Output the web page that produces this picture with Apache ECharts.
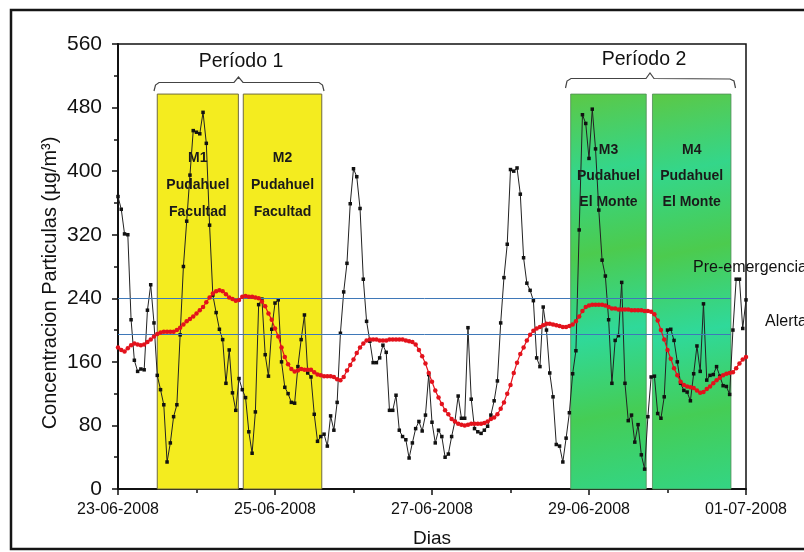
<!DOCTYPE html>
<html>
<head>
<meta charset="utf-8">
<script src="https://cdn.jsdelivr.net/npm/echarts@6/dist/echarts.min.js"></script>
<style>html,body{margin:0;padding:0;background:#fff;}#c{width:804px;height:552px;}</style>
</head>
<body>
<div id="c"></div>
<script>
// hourly readings, hour 0 = 23-06-2008 00:00
const blackValues = [
368,352,321,320,213,162,148,151,150,225,257,209,143,125,106,34,58,91,106,194,
280,337,395,451,449,447,474,435,332,244,222,201,188,133,175,121,99,139,125,115,
72,45,97,232,239,169,142,201,234,238,160,128,120,109,108,154,188,219,146,141,
94,60,66,69,54,92,74,109,196,248,284,359,403,393,353,264,211,186,159,159,
165,181,172,99,99,118,74,66,62,39,58,76,85,73,93,144,84,58,74,66,
40,44,66,85,117,89,89,203,113,76,72,70,74,79,93,111,136,209,266,308,
402,400,404,371,291,259,250,237,165,154,229,200,146,116,56,54,34,64,96,145,
174,326,471,460,416,478,428,351,288,268,213,133,187,193,260,133,86,93,59,81,
43,25,91,141,142,95,89,116,200,201,187,160,133,124,122,111,145,180,148,233,
137,143,144,154,142,130,129,119,200,264,264,202,238
];
const redValues = [
178,175,173,177,181,183,182,181,182,185,188,192,195,197,198,198,198,198,200,203,
207,211,214,217,221,225,229,235,241,246,249,250,249,245,241,239,237,238,242,243,
242,242,241,240,236,230,221,213,202,192,178,166,157,151,148,149,151,150,150,150,
147,144,143,142,142,142,141,138,137,141,149,156,163,171,178,183,187,188,188,188,
187,187,187,188,188,188,188,188,187,186,185,182,175,167,158,146,135,124,115,107,
99,94,88,85,82,81,80,81,82,82,82,82,83,85,88,90,94,101,109,120,
131,146,159,170,178,187,194,199,202,204,206,208,208,207,206,205,204,204,205,207,
211,217,224,229,231,232,232,232,232,231,229,227,227,226,226,226,226,225,225,225,
225,224,224,223,220,212,200,188,175,164,152,143,135,131,129,128,127,124,121,122,
126,129,133,137,140,143,145,146,147,152,158,163,166
];
const xTickLabels = ['23-06-2008','25-06-2008','27-06-2008','29-06-2008','01-07-2008'];
const thresholds = [{name:'Pre-emergencia', value:240}, {name:'Alerta', value:195}];
const boxes = [
  {id:'M1', site:'Pudahuel\nFacultad', start:12.0, end:36.8, top:497, kind:'y'},
  {id:'M2', site:'Pudahuel\nFacultad', start:38.3, end:62.3, top:497, kind:'y'},
  {id:'M3', site:'Pudahuel\nEl Monte', start:138.4, end:161.5, top:497, kind:'g'},
  {id:'M4', site:'Pudahuel\nEl Monte', start:163.4, end:187.4, top:497, kind:'g'}
];
const periods = [{name:'Período 1'}, {name:'Período 2'}];

const FONT = 'Liberation Sans, Arial, sans-serif';
const chart = echarts.init(document.getElementById('c'), null, {renderer:'canvas'});

const green = new echarts.graphic.LinearGradient(0,0,1,1,[
  {offset:0,color:'#5cc845'},{offset:0.2,color:'#34d68a'},{offset:0.4,color:'#4ccb4e'},
  {offset:0.6,color:'#2fd99a'},{offset:0.8,color:'#45cd55'},{offset:1,color:'#33d584'}
]);

const areaData = boxes.map(b => [
  {xAxis:b.start, yAxis:0, name:b.id + '\n' + b.site,
   itemStyle: b.kind==='y' ? {color:'#f4ec1f', borderColor:'#6f6a40', borderWidth:1}
                           : {color:green, borderColor:'#4f8a55', borderWidth:0.8},
   label:{distance: b.kind==='y' ? 51 : 43, lineHeight: b.kind==='y' ? 27 : 26}},
  {xAxis:b.end, yAxis:b.top}
]);

const option = {
  animation:false,
  backgroundColor:'#fff',
  grid:{left:118, right:58, top:44, bottom:63, show:true, borderColor:'#111', borderWidth:1.5, backgroundColor:'transparent'},
  xAxis:{type:'value', min:0, max:192, interval:48,
    axisLine:{onZero:false, lineStyle:{color:'#111', width:2}},
    axisTick:{length:6, lineStyle:{color:'#111', width:1.5}},
    minorTick:{show:true, splitNumber:2, length:4, lineStyle:{color:'#111', width:1.5}},
    splitLine:{show:false},
    axisLabel:{formatter:v => xTickLabels[Math.round(v/48)], fontSize:16, color:'#111', margin:13, fontFamily:FONT}
  },
  yAxis:{type:'value', min:0, max:560, interval:80,
    axisLine:{onZero:false, lineStyle:{color:'#111', width:2}},
    axisTick:{length:6, lineStyle:{color:'#111', width:1.5}},
    minorTick:{show:true, splitNumber:2, length:4, lineStyle:{color:'#111', width:1.5}},
    splitLine:{show:false},
    axisLabel:{fontSize:21, color:'#111', margin:16, fontFamily:FONT}
  },
  series:[
    {type:'line', z:1, data:[], silent:true,
     markArea:{silent:true, label:{show:true, position:'insideTop', fontSize:14, fontWeight:'bold', color:'#1a1a1a', fontFamily:FONT, formatter:p=>p.name}, data:areaData},
     markLine:{silent:true, symbol:'none', label:{show:false},
       lineStyle:{color:'#3f78b8', width:1, type:'solid'},
       data: thresholds.map(t => [{coord:[0,t.value]},{coord:[187.4,t.value]}])}
    },
    {name:'conc', type:'line', z:4, data:blackValues.map((v,i)=>[i,v]),
     symbol:'rect', symbolSize:3.5, itemStyle:{color:'#111'}, lineStyle:{color:'#222', width:1}},
    {name:'media', type:'line', z:5, data:redValues.map((v,i)=>[i,v]),
     symbol:'circle', symbolSize:4.5, itemStyle:{color:'#e3121c'}, lineStyle:{color:'#e3121c', width:1.2}}
  ],
  graphic:[
    {type:'rect', z:100, shape:{x:11, y:10, width:810, height:539}, style:{fill:null, stroke:'#151515', lineWidth:2.5}, silent:true},
    {type:'polyline', z:100, shape:{points:[[154,91],[155.5,85],[159,82.5],[234,82.5],[238.5,77],[243,82.5],[319,82.5],[322.5,85],[324,91]]}, style:{stroke:'#444', lineWidth:1.2, fill:null}},
    {type:'polyline', z:100, shape:{points:[[565.5,88],[567,81],[571,78.5],[646,78.5],[650,73],[654,78.5],[730,79],[734,81],[735.5,88]]}, style:{stroke:'#444', lineWidth:1.2, fill:null}},
    {type:'text', z:100, x:241, y:62, style:{text:periods[0].name, fontSize:19.5, fill:'#111', fontFamily:FONT, align:'center', verticalAlign:'middle'}},
    {type:'text', z:100, x:644, y:60, style:{text:periods[1].name, fontSize:19.5, fill:'#111', fontFamily:FONT, align:'center', verticalAlign:'middle'}},
    {type:'text', z:100, x:693, y:268, style:{text:thresholds[0].name, fontSize:16, fill:'#111', fontFamily:FONT, align:'left', verticalAlign:'middle'}},
    {type:'text', z:100, x:765, y:322, style:{text:thresholds[1].name, fontSize:16, fill:'#111', fontFamily:FONT, align:'left', verticalAlign:'middle'}},
    {type:'text', z:100, x:432, y:539, style:{text:'Dias', fontSize:19, fill:'#111', fontFamily:FONT, align:'center', verticalAlign:'middle'}},
    {type:'text', z:100, x:50, y:283, rotation:Math.PI/2, style:{text:'Concentracion Particulas (µg/m³)', fontSize:20, fill:'#111', fontFamily:FONT, align:'center', verticalAlign:'middle'}}
  ]
};
chart.setOption(option);
</script>
</body>
</html>
